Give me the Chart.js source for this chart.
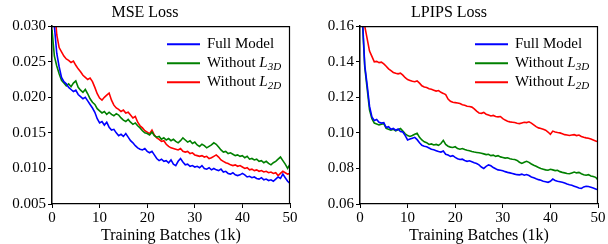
<!DOCTYPE html>
<html>
<head>
<meta charset="utf-8">
<script src="https://cdn.jsdelivr.net/npm/chart.js@4.4.1/dist/chart.umd.min.js"></script>
<style>
    body { margin: 0; background: #fff; }
    #wrap { position: relative; width: 608px; height: 244px; }
    canvas { position: absolute; top: 0; }
    #mse { left: 0; }
    #lpips { left: 300px; }
</style>
</head>
<body>
<div id="wrap">
    <canvas id="mse" width="300" height="244"></canvas>
    <canvas id="lpips" width="308" height="244"></canvas>
</div>
<script>
// training batches (1k)
var batches = [0, 0.5, 1, 1.5, 2, 2.5, 3, 3.5, 4, 4.5, 5, 5.5, 6, 6.5, 7, 7.5, 8, 8.5, 9, 9.5,
    10, 10.5, 11, 11.5, 12, 12.5, 13, 13.5, 14, 14.5, 15, 15.5, 16, 16.5, 17, 17.5, 18, 18.5, 19, 19.5,
    20, 20.5, 21, 21.5, 22, 22.5, 23, 23.5, 24, 24.5, 25, 25.5, 26, 26.5, 27, 27.5, 28, 28.5, 29, 29.5,
    30, 30.5, 31, 31.5, 32, 32.5, 33, 33.5, 34, 34.5, 35, 35.5, 36, 36.5, 37, 37.5, 38, 38.5, 39, 39.5,
    40, 40.5, 41, 41.5, 42, 42.5, 43, 43.5, 44, 44.5, 45, 45.5, 46, 46.5, 47, 47.5, 48, 48.5, 49, 49.5, 50];

var seriesNames = ["Full Model", "Without L_3D", "Without L_2D"];

var mseFull = [0.0340, 0.0300, 0.0262, 0.0243, 0.0228, 0.0222, 0.0219, 0.0214, 0.0211, 0.0208,
    0.0210, 0.0204, 0.0201, 0.0198, 0.0200, 0.0195, 0.0190, 0.0185, 0.0179, 0.0170,
    0.0164, 0.0166, 0.0161, 0.0165, 0.0158, 0.0154, 0.0155, 0.0150, 0.0146, 0.0148,
    0.0145, 0.0149, 0.0144, 0.0139, 0.0136, 0.0132, 0.0129, 0.0127, 0.0126, 0.0128,
    0.0124, 0.0122, 0.0124, 0.0119, 0.0114, 0.0111, 0.0113, 0.0110, 0.0111, 0.0108,
    0.0112, 0.0106, 0.0104, 0.0110, 0.0114, 0.0109, 0.0105, 0.0106, 0.0103, 0.0104,
    0.0102, 0.0103, 0.0101, 0.0104, 0.0100, 0.0099, 0.0101, 0.0098, 0.0100, 0.0098,
    0.0097, 0.0099, 0.0095, 0.0096, 0.0093, 0.0092, 0.0094, 0.0091, 0.0090, 0.0091,
    0.0093, 0.0091, 0.0088, 0.0089, 0.0087, 0.0088, 0.0086, 0.0085, 0.0087, 0.0084,
    0.0085, 0.0083, 0.0084, 0.0082, 0.0085, 0.0088, 0.0086, 0.0092, 0.0087, 0.0082, 0.0079];

var mseNo3D = [0.0295, 0.0258, 0.0244, 0.0233, 0.0224, 0.0220, 0.0216, 0.0219, 0.0215, 0.0220,
    0.0223, 0.0214, 0.0210, 0.0207, 0.0211, 0.0205, 0.0198, 0.0193, 0.0190, 0.0184,
    0.0181, 0.0178, 0.0180, 0.0176, 0.0179, 0.0176, 0.0174, 0.0177, 0.0175, 0.0171,
    0.0168, 0.0166, 0.0169, 0.0165, 0.0162, 0.0164, 0.0160, 0.0157, 0.0153, 0.0150,
    0.0149, 0.0147, 0.0151, 0.0146, 0.0144, 0.0145, 0.0141, 0.0143, 0.0140, 0.0142,
    0.0139, 0.0141, 0.0138, 0.0136, 0.0139, 0.0143, 0.0140, 0.0137, 0.0139, 0.0135,
    0.0137, 0.0133, 0.0131, 0.0134, 0.0132, 0.0129, 0.0131, 0.0133, 0.0136, 0.0134,
    0.0130, 0.0126, 0.0123, 0.0124, 0.0121, 0.0122, 0.0120, 0.0118, 0.0119, 0.0117,
    0.0118, 0.0115, 0.0117, 0.0113, 0.0114, 0.0112, 0.0113, 0.0110, 0.0111, 0.0108,
    0.0110, 0.0107, 0.0105, 0.0108, 0.0110, 0.0113, 0.0116, 0.0111, 0.0106, 0.0100, 0.0106];

var mseNo2D = [0.0400, 0.0330, 0.0288, 0.0270, 0.0264, 0.0258, 0.0254, 0.0252, 0.0249, 0.0251,
    0.0245, 0.0240, 0.0236, 0.0231, 0.0228, 0.0225, 0.0227, 0.0222, 0.0214, 0.0205,
    0.0199, 0.0196, 0.0200, 0.0203, 0.0206, 0.0196, 0.0189, 0.0185, 0.0183, 0.0180,
    0.0182, 0.0178, 0.0179, 0.0175, 0.0171, 0.0173, 0.0165, 0.0160, 0.0157, 0.0153,
    0.0151, 0.0149, 0.0154, 0.0147, 0.0143, 0.0141, 0.0138, 0.0139, 0.0134, 0.0131,
    0.0129, 0.0128, 0.0127, 0.0126, 0.0128, 0.0124, 0.0123, 0.0124, 0.0121, 0.0122,
    0.0119, 0.0118, 0.0117, 0.0118, 0.0116, 0.0117, 0.0114, 0.0115, 0.0117, 0.0119,
    0.0116, 0.0112, 0.0110, 0.0108, 0.0107, 0.0105, 0.0104, 0.0105, 0.0103, 0.0104,
    0.0102, 0.0100, 0.0101, 0.0098, 0.0099, 0.0097, 0.0098, 0.0096, 0.0097, 0.0095,
    0.0096, 0.0094, 0.0095, 0.0093, 0.0094, 0.0090, 0.0093, 0.0096, 0.0094, 0.0092, 0.0093];

var lpipsFull = [0.2000, 0.1650, 0.1380, 0.1270, 0.1150, 0.1090, 0.1070, 0.1075, 0.1060, 0.1055,
    0.1058, 0.1030, 0.1035, 0.1020, 0.1025, 0.1015, 0.1022, 0.1008, 0.1005, 0.0985,
    0.0960, 0.0965, 0.0970, 0.0975, 0.0962, 0.0945, 0.0930, 0.0925, 0.0922, 0.0915,
    0.0908, 0.0905, 0.0900, 0.0895, 0.0892, 0.0898, 0.0880, 0.0875, 0.0868, 0.0872,
    0.0862, 0.0855, 0.0850, 0.0852, 0.0845, 0.0840, 0.0843, 0.0838, 0.0832, 0.0828,
    0.0820, 0.0808, 0.0800, 0.0812, 0.0820, 0.0815, 0.0805, 0.0798, 0.0792, 0.0790,
    0.0787, 0.0782, 0.0778, 0.0775, 0.0772, 0.0768, 0.0765, 0.0764, 0.0768, 0.0762,
    0.0766, 0.0760, 0.0752, 0.0748, 0.0742, 0.0737, 0.0733, 0.0728, 0.0725, 0.0722,
    0.0728, 0.0740, 0.0732, 0.0728, 0.0725, 0.0722, 0.0718, 0.0712, 0.0708, 0.0705,
    0.0700, 0.0695, 0.0690, 0.0688, 0.0696, 0.0700, 0.0698, 0.0694, 0.0690, 0.0685, 0.0680];

var lpipsNo3D = [0.2000, 0.1630, 0.1370, 0.1250, 0.1130, 0.1080, 0.1055, 0.1050, 0.1045, 0.1048,
    0.1052, 0.1025, 0.1020, 0.1015, 0.1020, 0.1012, 0.1018, 0.1025, 0.1010, 0.0995,
    0.0985, 0.0980, 0.0985, 0.0992, 0.0998, 0.0975, 0.0960, 0.0950, 0.0945, 0.0935,
    0.0938, 0.0932, 0.0935, 0.0930, 0.0940, 0.0958, 0.0935, 0.0925, 0.0920, 0.0918,
    0.0922, 0.0912, 0.0908, 0.0912, 0.0906, 0.0902, 0.0900, 0.0895, 0.0892, 0.0890,
    0.0888, 0.0885, 0.0882, 0.0878, 0.0880, 0.0872, 0.0875, 0.0868, 0.0872, 0.0865,
    0.0862, 0.0858, 0.0860, 0.0855, 0.0852, 0.0850, 0.0845, 0.0835, 0.0828, 0.0835,
    0.0840, 0.0834, 0.0825, 0.0818, 0.0812, 0.0805, 0.0800, 0.0796, 0.0792, 0.0790,
    0.0795, 0.0792, 0.0788, 0.0790, 0.0782, 0.0778, 0.0775, 0.0772, 0.0770, 0.0775,
    0.0780, 0.0775, 0.0778, 0.0770, 0.0765, 0.0762, 0.0765, 0.0758, 0.0755, 0.0750, 0.0735];

var lpipsNo2D = [0.2400, 0.1850, 0.1600, 0.1530, 0.1460, 0.1430, 0.1400, 0.1402, 0.1395, 0.1398,
    0.1388, 0.1375, 0.1360, 0.1350, 0.1340, 0.1335, 0.1332, 0.1336, 0.1325, 0.1310,
    0.1300, 0.1295, 0.1290, 0.1288, 0.1292, 0.1280, 0.1265, 0.1258, 0.1255, 0.1248,
    0.1245, 0.1240, 0.1235, 0.1238, 0.1228, 0.1222, 0.1215, 0.1190, 0.1178, 0.1172,
    0.1170, 0.1168, 0.1165, 0.1158, 0.1155, 0.1150, 0.1148, 0.1145, 0.1135, 0.1122,
    0.1112, 0.1110, 0.1115, 0.1105, 0.1100, 0.1095, 0.1098, 0.1092, 0.1090, 0.1092,
    0.1080, 0.1072, 0.1066, 0.1062, 0.1060, 0.1058, 0.1054, 0.1052, 0.1056, 0.1060,
    0.1058, 0.1062, 0.1055, 0.1045, 0.1035, 0.1028, 0.1025, 0.1020, 0.1015, 0.1005,
    0.0992, 0.1010, 0.1005, 0.1002, 0.1000, 0.0995, 0.0990, 0.0988, 0.0985, 0.0988,
    0.0990, 0.0985, 0.0988, 0.0980, 0.0975, 0.0972, 0.0970, 0.0965, 0.0960, 0.0955, 0.0950];

var xTicks = [0, 10, 20, 30, 40, 50];
var mseTicks = [0.005, 0.010, 0.015, 0.020, 0.025, 0.030];
var lpipsTicks = [0.06, 0.08, 0.10, 0.12, 0.14, 0.16];

(function(){
    var serif = "'Liberation Serif', 'Times New Roman', serif";
    var colors = ["#0000ff", "#008000", "#ff0000"];

    function pts(ys){
        return ys.map(function(y, i){ return {x: batches[i], y: y}; });
    }

    // frame round the plot + legend with italic L and subscripts
    var boxLegend = {
        id: "boxLegend",
        afterDraw: function(chart){
            var a = chart.chartArea;
            var ctx = chart.ctx;
            ctx.save();
            ctx.strokeStyle = "#000";
            ctx.lineWidth = 1.2;
            ctx.beginPath();
            ctx.moveTo(a.left, a.top + 0.5);
            ctx.lineTo(a.right - 0.5, a.top + 0.5);
            ctx.lineTo(a.right - 0.5, a.bottom);
            ctx.stroke();

            var x0 = a.right - 123;
            for (var i = 0; i < seriesNames.length; i++){
                var y = a.top + 18 + i * 19;
                ctx.strokeStyle = colors[i];
                ctx.lineWidth = 2;
                ctx.beginPath();
                ctx.moveTo(x0, y);
                ctx.lineTo(x0 + 33, y);
                ctx.stroke();

                var parts = seriesNames[i].split(" L_");
                var tx = x0 + 40;
                ctx.fillStyle = "#000";
                ctx.textBaseline = "middle";
                ctx.textAlign = "left";
                ctx.font = "15px " + serif;
                var base = parts.length > 1 ? parts[0] + " " : parts[0];
                ctx.fillText(base, tx, y);
                if (parts.length > 1){
                    tx += ctx.measureText(base).width;
                    ctx.font = "italic 15px " + serif;
                    ctx.fillText("L", tx, y);
                    tx += ctx.measureText("L").width;
                    ctx.font = "italic 11px " + serif;
                    ctx.fillText(parts[1], tx, y + 4);
                }
            }
            ctx.restore();
        }
    };

    function makeChart(id, title, series, ticks, yLeft, digits){
        var datasets = series.map(function(ys, i){
            return {
                label: seriesNames[i],
                data: pts(ys),
                borderColor: colors[i],
                borderWidth: 1.6,
                pointRadius: 0,
                tension: 0,
                clip: 0
            };
        });
        return new Chart(document.getElementById(id), {
            type: "line",
            data: { datasets: datasets },
            plugins: [boxLegend],
            options: {
                responsive: false,
                animation: false,
                layout: { padding: { left: 0, right: 10, top: 0, bottom: 0 } },
                plugins: {
                    legend: { display: false },
                    tooltip: { enabled: false },
                    title: {
                        display: true,
                        text: title,
                        color: "#000",
                        font: { family: serif, size: 16, weight: "normal", lineHeight: 1.2 },
                        padding: { top: 3, bottom: 4 }
                    }
                },
                scales: {
                    x: {
                        type: "linear",
                        min: 0,
                        max: 50,
                        afterBuildTicks: function(s){ s.ticks = xTicks.map(function(v){ return {value: v}; }); },
                        afterFit: function(s){ s.height = 40; },
                        grid: { drawOnChartArea: false, tickLength: 4, color: "#000" },
                        border: { color: "#000", width: 1.2 },
                        ticks: { color: "#000", padding: 1, maxRotation: 0, font: { family: serif, size: 15 } },
                        title: {
                            display: true,
                            text: "Training Batches (1k)",
                            color: "#000",
                            font: { family: serif, size: 16, lineHeight: 1 },
                            padding: { top: 0, bottom: 0 }
                        }
                    },
                    y: {
                        min: ticks[0],
                        max: ticks[ticks.length - 1],
                        afterBuildTicks: function(s){ s.ticks = ticks.map(function(v){ return {value: v}; }); },
                        afterFit: function(s){ s.width = yLeft; },
                        grid: { drawOnChartArea: false, tickLength: 4, color: "#000" },
                        border: { color: "#000", width: 1.5 },
                        ticks: {
                            color: "#000",
                            padding: 2,
                            font: { family: serif, size: 15 },
                            callback: function(v){ return Number(v).toFixed(digits); }
                        }
                    }
                }
            }
        });
    }

    makeChart("mse", "MSE Loss", [mseFull, mseNo3D, mseNo2D], mseTicks, 52, 3);
    makeChart("lpips", "LPIPS Loss", [lpipsFull, lpipsNo3D, lpipsNo2D], lpipsTicks, 60, 2);
}());
</script>
</body>
</html>
